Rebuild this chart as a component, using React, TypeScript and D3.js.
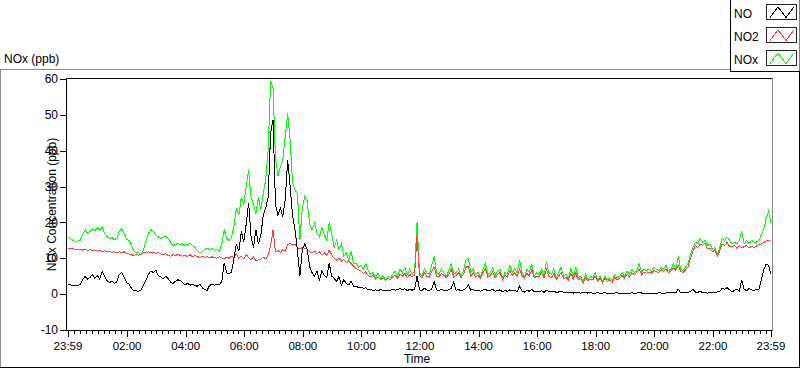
import React from "react";
import * as d3 from "d3";

// ---- data ----
const seriesNames = ["NO", "NO2", "NOx"];
const seriesColors = ["#000000", "#ff4040", "#00ff00"];
const xTickLabels = ["23:59", "02:00", "04:00", "06:00", "08:00", "10:00", "12:00", "14:00", "16:00", "18:00", "20:00", "22:00", "23:59"];
const yTicks = [60, 50, 40, 30, 20, 10, 0, -10];
const sampleMinutes = 5; // one value every 5 minutes from 23:59
const minorTickMinutes = 12;

// NO (ppb), 12 values per hour
const NO = [
  2.8, 2.6, 2.4, 2.3, 2.5, 2.6, 4.0, 4.9, 4.2, 4.6, 5.5, 4.4,
  5.2, 4.2, 6.3, 5.0, 3.8, 3.2, 3.6, 3.0, 3.4, 5.5, 6.0, 4.8,
  3.2, 2.8, 1.6, 1.0, 0.9, 0.8, 1.2, 2.6, 4.0, 5.6, 6.5, 6.0,
  6.7, 5.2, 4.8, 4.2, 5.0, 4.4, 3.4, 3.0, 3.6, 4.0, 3.8, 3.2,
  2.6, 3.0, 2.5, 2.8, 2.4, 2.2, 2.8, 1.8, 1.2, 1.1, 2.4, 2.8,
  2.5, 2.8, 2.6, 3.5, 8.7, 6.0, 5.6, 6.2, 10.0, 14.0, 12.0, 17.5,
  14.5, 19.5, 25.4, 16.0, 13.0, 18.0, 14.0, 16.5, 22.0, 24.0, 27.0, 44.9,
  48.6, 25.0, 22.0, 24.0, 21.6, 26.5, 37.4, 30.0, 22.0, 18.0, 12.0, 5.0,
  12.3, 14.0, 12.5, 7.7, 6.0, 5.0, 6.5, 3.8, 6.5, 5.2, 4.5, 8.7,
  5.0, 4.5, 3.5, 4.9, 2.5, 4.0, 3.0, 2.6, 3.6, 2.1, 2.3, 1.8,
  2.0, 1.6, 1.8, 1.2, 1.4, 1.0, 1.2, 0.9, 1.3, 1.0, 1.1, 0.9,
  1.0, 1.4, 1.1, 1.3, 1.6, 1.2, 1.5, 1.0, 1.3, 1.1, 1.4, 5.0,
  1.2, 1.0, 1.6, 1.2, 1.0, 1.4, 3.5, 1.2, 1.0, 1.3, 1.1, 1.0,
  1.2, 1.6, 3.4, 1.0, 1.3, 0.9, 1.2, 1.6, 2.6, 1.1, 1.3, 0.9,
  1.0, 0.8, 1.2, 1.4, 0.9, 1.1, 1.3, 0.8, 1.0, 1.2, 0.7, 1.0,
  0.8, 1.2, 0.9, 1.1, 0.7, 2.2, 0.9, 0.6, 1.0, 0.8, 1.4, 0.6,
  0.7, 0.6, 0.9, 0.5, 1.1, 0.7, 0.6, 0.8, 0.5, 0.6, 0.8, 0.5,
  0.4, 0.5, 0.6, 0.3, 0.5, 0.4, 0.3, 0.5, 0.4, 0.3, 0.4, 0.3,
  0.3, 0.4, 0.2, 0.3, 0.4, 0.2, 0.3, 0.2, 0.3, 0.4, 0.2, 0.3,
  0.2, 0.3, 0.2, 0.4, 0.2, 0.3, 0.6, 0.3, 0.2, 0.3, 0.2, 0.3,
  0.3, 0.2, 0.4, 0.3, 0.2, 0.3, 0.4, 0.3, 0.5, 0.3, 1.4, 0.4,
  0.3, 0.5, 0.4, 0.8, 1.4, 0.6, 0.5, 0.8, 0.4, 0.5, 0.3, 0.4,
  0.5, 0.4, 0.6, 0.8, 1.6, 1.4, 1.8, 1.2, 0.6, 1.0, 1.4, 0.8,
  4.0, 1.4, 0.9, 1.6, 1.2, 1.0, 1.4, 1.2, 4.0, 6.7, 8.4, 8.0, 5.5,
];

// NO2 (ppb)
const NO2 = [
  12.8, 12.6, 12.7, 12.4, 12.6, 12.5, 12.3, 12.5, 12.2, 12.4, 12.1, 12.3,
  12.0, 12.2, 11.9, 12.1, 11.8, 12.0, 11.6, 11.9, 11.5, 11.8, 11.6, 11.8,
  11.4, 11.2, 11.0, 10.8, 11.1, 10.8, 11.3, 11.6, 11.5, 11.8, 11.5, 11.6,
  11.4, 11.6, 11.2, 11.0, 11.3, 10.8, 10.6, 11.0, 10.7, 11.2, 10.8, 10.6,
  10.8, 10.5, 11.0, 10.4, 10.7, 10.5, 10.2, 10.6, 10.2, 10.5, 10.2, 10.4,
  10.2, 10.0, 10.4, 10.1, 9.8, 10.3, 10.0, 10.6, 10.2, 11.3, 10.0, 10.6,
  9.8, 11.0, 10.2, 9.6, 10.4, 9.2, 9.6, 9.8, 10.3, 9.8, 11.0, 13.5,
  17.9, 11.8, 12.2, 11.6, 12.4, 12.0, 13.8, 14.2, 13.7, 14.0, 13.0, 12.6,
  13.0, 12.8, 12.6, 11.8, 11.6, 12.0, 11.2, 11.8, 11.0, 11.5, 10.8, 12.3,
  11.0, 10.0, 9.5, 10.0, 9.2, 9.6, 8.8, 9.2, 8.5, 7.8, 7.2, 6.8,
  6.5, 5.8, 6.2, 5.2, 4.8, 5.2, 4.2, 4.8, 4.0, 4.5, 3.8, 4.4,
  4.0, 4.8, 5.2, 4.4, 5.5, 5.0, 5.8, 4.6, 5.5, 4.8, 5.4, 16.4,
  5.2, 4.6, 6.0, 5.0, 4.8, 6.4, 7.5, 5.0, 4.8, 5.8, 5.2, 4.6,
  5.5, 7.0, 4.8, 5.2, 6.0, 4.6, 5.5, 7.5, 7.8, 5.0, 6.0, 4.8,
  5.2, 4.5, 6.0, 7.0, 4.8, 5.2, 6.2, 4.5, 5.5, 6.0, 4.0, 5.2,
  4.8, 6.5, 5.2, 6.0, 5.0, 7.0, 5.2, 4.4, 5.8, 5.0, 6.8, 4.5,
  5.0, 4.8, 6.0, 4.5, 7.0, 5.0, 4.6, 5.8, 4.0, 5.0, 6.0, 4.4,
  4.6, 4.0, 5.8, 4.2, 6.0, 4.0, 4.4, 3.2, 4.6, 3.6, 4.2, 4.0,
  5.0, 3.6, 4.4, 3.2, 4.4, 3.6, 4.0, 3.4, 4.8, 4.0, 4.4, 5.2,
  4.5, 5.6, 4.8, 6.0, 5.4, 6.0, 7.0, 5.4, 6.2, 5.8, 6.2, 5.8,
  6.6, 6.2, 6.0, 6.8, 6.4, 7.0, 6.0, 6.4, 7.4, 6.6, 8.0, 6.4,
  6.0, 6.8, 7.6, 10.0, 12.0, 13.6, 13.0, 14.0, 13.6, 14.2, 12.6, 12.8,
  11.8, 12.4, 10.6, 12.0, 14.0, 13.6, 14.4, 13.4, 13.2, 13.6, 12.8, 13.4,
  13.0, 13.2, 13.6, 12.8, 13.4, 13.0, 13.4, 13.8, 14.0, 14.4, 14.8, 15.0, 14.6,
];

// NOx (ppb)
const NOx = [
  16.0, 15.5, 15.0, 14.5, 14.8, 15.0, 16.5, 18.0, 17.0, 17.5, 18.2, 17.6,
  18.5, 17.8, 18.8, 17.0, 16.0, 15.5, 15.8, 15.2, 15.6, 17.5, 18.2, 17.0,
  15.2, 15.0, 13.5, 12.0, 11.5, 11.5, 11.0, 12.5, 15.0, 17.0, 18.0, 17.5,
  16.5, 16.0, 15.5, 16.0, 16.2, 15.5, 14.5, 13.5, 13.8, 14.2, 13.8, 14.0,
  13.6, 13.8, 14.2, 13.6, 13.0, 12.2, 11.6, 11.8, 12.5, 12.8, 12.4, 12.8,
  12.2, 12.6, 12.0, 14.0, 18.0, 15.5, 15.0, 15.8, 19.0, 24.0, 22.0, 27.0,
  25.0, 30.0, 34.5, 27.0, 25.0, 22.5, 27.0, 23.5, 28.0, 32.0, 40.0, 59.5,
  57.5, 38.0, 33.0, 35.5, 37.5, 44.0, 50.4, 43.0, 31.0, 29.0, 28.0, 15.0,
  24.0, 27.2, 26.0, 19.5, 18.0, 19.7, 17.0, 16.0, 18.5, 16.5, 15.0, 20.0,
  17.0, 13.0, 15.0, 12.5, 14.0, 10.5, 11.5, 9.5, 12.0, 8.5, 8.7, 7.5,
  8.0, 7.0, 8.5, 6.5, 5.5, 6.0, 4.5, 5.8, 4.5, 5.2, 4.0, 5.0,
  4.5, 5.5, 6.5, 5.0, 7.0, 6.0, 7.5, 5.5, 7.0, 5.5, 6.5, 20.0,
  6.0, 5.0, 7.0, 6.0, 5.5, 8.0, 10.5, 6.0, 5.5, 7.0, 6.0, 5.0,
  6.5, 8.5, 5.5, 6.0, 7.0, 5.0, 6.5, 9.5, 10.0, 6.0, 7.0, 5.5,
  6.0, 5.0, 7.0, 8.5, 5.5, 6.0, 7.5, 5.0, 6.5, 7.0, 4.5, 6.0,
  5.5, 8.0, 6.0, 7.0, 6.0, 9.5, 6.0, 5.0, 7.0, 6.0, 8.5, 5.0,
  6.0, 5.5, 7.0, 5.0, 9.0, 6.0, 5.5, 7.0, 4.5, 6.0, 7.5, 5.0,
  5.5, 4.5, 7.0, 5.0, 7.5, 4.5, 5.0, 3.5, 5.5, 4.0, 5.0, 4.5,
  6.0, 4.0, 5.0, 3.5, 5.0, 4.0, 4.5, 3.8, 5.5, 4.5, 5.0, 6.0,
  5.0, 6.5, 5.5, 7.0, 6.0, 6.5, 8.5, 6.0, 7.0, 6.5, 7.0, 6.5,
  7.5, 7.0, 6.5, 7.5, 7.0, 8.0, 6.5, 7.0, 8.5, 7.0, 10.5, 7.0,
  6.5, 7.5, 8.5, 11.0, 13.0, 14.5, 14.0, 15.5, 14.5, 15.0, 13.5, 14.0,
  12.5, 13.0, 11.0, 13.0, 15.5, 15.0, 16.0, 15.0, 14.0, 14.5, 14.0, 15.0,
  17.5, 14.0, 15.0, 14.0, 15.0, 14.5, 14.5, 15.0, 16.5, 18.0, 21.0, 23.0, 20.0,
];

const seriesData = [NO, NO2, NOx];

// ---- layout ----
const W = 800;
const H = 369;
const plot = { left: 68, right: 771, top: 79, bottom: 330 };
const FONT = "'Liberation Sans', Arial, sans-serif";

function labelToMinutes(label: string, i: number, n: number) {
  const [h, m] = label.split(":").map(Number);
  const start = 23 * 60 + 59;
  let v = (h * 60 + m - start + 1440) % 1440;
  if (i === n - 1 && v === 0) v = 1440;
  return v;
}

export default function App() {
  const x = d3.scaleLinear().domain([0, 1440]).range([plot.left, plot.right]);
  const y = d3.scaleLinear().domain([-10, 60]).range([plot.bottom, plot.top]);

  const majorTicks = xTickLabels.map((l, i) => ({ label: l, m: labelToMinutes(l, i, xTickLabels.length) }));
  const minorTicks = d3.range(1, 1440, minorTickMinutes).filter((m) => !majorTicks.some((t) => Math.abs(t.m - m) < 2));

  const line = d3
    .line<number>()
    .x((_, i) => x(i * sampleMinutes))
    .y((d) => y(d));

  const drawOrder = [2, 1, 0];
  const rowTop = (i: number) => 4.5 + i * 23;

  return (
    <svg
      width={W}
      height={H}
      style={{ position: "absolute", left: 0, top: 0, background: "#fff" }}
      fontFamily={FONT}
    >
      <rect x={0} y={0} width={W} height={H} fill="#fff" />
      {/* panel frame */}
      <line x1={0} x2={731} y1={69.5} y2={69.5} stroke="#8c8c8c" />
      <line x1={0.5} x2={0.5} y1={69.5} y2={368} stroke="#8c8c8c" />
      <line x1={0} x2={800} y1={367.5} y2={367.5} stroke="#000" />
      <line x1={799.5} x2={799.5} y1={0} y2={368} stroke="#000" />

      {/* title */}
      <text x={4} y={63} fontSize={12} fill="#000">NOx (ppb)</text>

      {/* plot area */}
      <defs>
        <clipPath id="plotclip">
          <rect x={plot.left - 1} y={plot.top} width={plot.right - plot.left + 2} height={plot.bottom - plot.top} />
        </clipPath>
      </defs>
      <g clipPath="url(#plotclip)">
        {drawOrder.map((si) => (
          <path
            key={si}
            d={line(seriesData[si]) || ""}
            fill="none"
            stroke={seriesColors[si]}
            strokeWidth={1}
            shapeRendering="crispEdges"
          />
        ))}
      </g>
      <line x1={66.5} x2={773} y1={78.5} y2={78.5} stroke="#000" />
      <line x1={66.5} x2={66.5} y1={78.5} y2={331} stroke="#000" />
      <line x1={772.5} x2={772.5} y1={78.5} y2={331} stroke="#8c8c8c" />
      <line x1={66.5} x2={772.5} y1={330.5} y2={330.5} stroke="#000" />

      {/* y axis */}
      {yTicks.map((t) => (
        <g key={t}>
          <line x1={60} x2={66} y1={Math.round(y(t)) + 0.5} y2={Math.round(y(t)) + 0.5} stroke="#000" />
          <text x={58} y={y(t)} dy="0.35em" textAnchor="end" fontSize={12} fill="#000">
            {t}
          </text>
        </g>
      ))}

      {/* x axis */}
      {minorTicks.map((m) => (
        <line key={"m" + m} x1={Math.round(x(m)) + 0.5} x2={Math.round(x(m)) + 0.5} y1={331} y2={334} stroke="#000" />
      ))}
      {majorTicks.map((t, i) => (
        <g key={"M" + i}>
          <line x1={Math.round(x(t.m)) + 0.5} x2={Math.round(x(t.m)) + 0.5} y1={331} y2={337} stroke="#000" />
          <text x={x(t.m)} y={350} textAnchor="middle" fontSize={11.5} fill="#000">
            {t.label}
          </text>
        </g>
      ))}

      {/* axis titles */}
      <text x={417} y={363} textAnchor="middle" fontSize={12} fill="#000">Time</text>
      <text transform={`translate(56,${(plot.top + plot.bottom) / 2}) rotate(-90)`} textAnchor="middle" fontSize={12} fill="#000">
        NOx Concentration (ppb)
      </text>

      {/* legend */}
      <rect x={730.5} y={-1} width={69} height={72.5} fill="#fff" stroke="none" />
      <line x1={730.5} x2={730.5} y1={0} y2={72} stroke="#000" />
      <line x1={730.5} x2={800} y1={71.5} y2={71.5} stroke="#000" />
      {seriesNames.map((name, i) => {
        const top = rowTop(i);
        return (
          <g key={name}>
            <text x={734} y={top + 13.5} fontSize={12} fill="#000">{name}</text>
            <rect x={766.5} y={top} width={30} height={15} fill="#fff" stroke="#222" />
            <polyline
              points={`770,${top + 13} 778,${top + 2.5} 786,${top + 13} 794,${top + 2.5}`}
              fill="none"
              stroke={seriesColors[i]}
              shapeRendering="crispEdges"
            />
          </g>
        );
      })}
    </svg>
  );
}
